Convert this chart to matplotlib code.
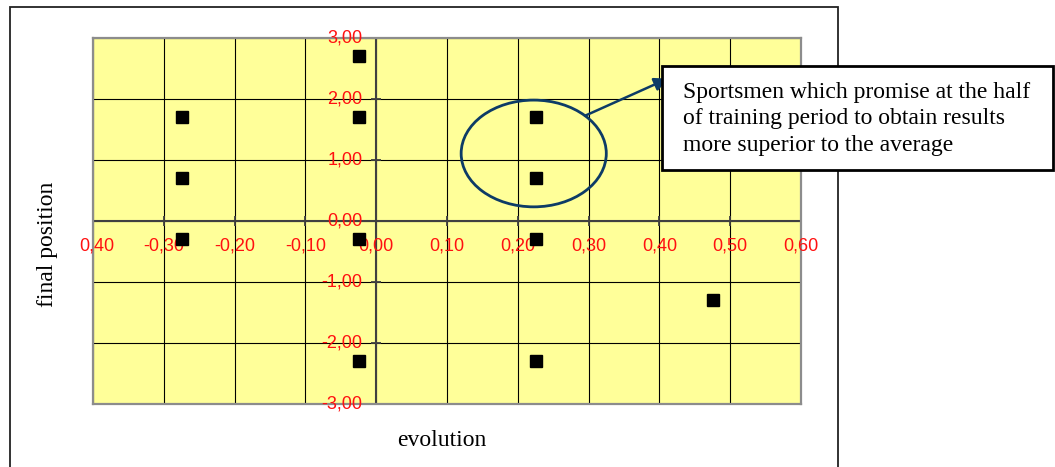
import numpy as np
import matplotlib
matplotlib.use("Agg")
import matplotlib.pyplot as plt
from matplotlib.patches import Ellipse, Rectangle

# sportsmen: evolution at half of training period vs final position
evolution = [-0.275, -0.275, -0.275, -0.025, -0.025, -0.025, -0.025,
             0.225, 0.225, 0.225, 0.225, 0.475]
final_position = [1.7, 0.7, -0.3, 2.7, 1.7, -0.3, -2.3,
                  1.7, 0.7, -0.3, -2.3, -1.3]

x_ticks = [-0.4, -0.3, -0.2, -0.1, 0.0, 0.1, 0.2, 0.3, 0.4, 0.5, 0.6]
x_labels = ["0,40", "-0,30", "-0,20", "-0,10", "0,00", "0,10",
            "0,20", "0,30", "0,40", "0,50", "0,60"]
y_ticks = [-3, -2, -1, 0, 1, 2, 3]
y_labels = ["-3,00", "-2,00", "-1,00", "0,00", "1,00", "2,00", "3,00"]

note = ("Sportsmen which promise at the half\n"
        "of training period to obtain results\n"
        "more superior to the average")

W, H = 1055, 467
fig = plt.figure(figsize=(W / 100, H / 100), dpi=100)
ax = fig.add_axes([93 / W, 1 - 404 / H, (801 - 93) / W, (404 - 38) / H])
ax.set_facecolor("#FFFF99")
ax.set_xlim(-0.4, 0.6)
ax.set_ylim(-3, 3)
ax.set_xticks(x_ticks)
ax.set_yticks(y_ticks)
ax.tick_params(length=0, labelbottom=False, labelleft=False)
ax.grid(True, color="black", lw=0.8)
ax.set_axisbelow(True)
for s in ax.spines.values():
    s.set_color("#8c8c8c")
    s.set_linewidth(1.6)

# axes crossing at the origin
ax.axhline(0, color="#404040", lw=1.5, zorder=1.5)
ax.axvline(0, color="#404040", lw=1.5, zorder=1.5)
ax.plot(x_ticks, np.zeros(len(x_ticks)), ls="none", marker="|",
        ms=7, mew=1.3, color="#404040", zorder=1.6)
ax.plot(np.zeros(len(y_ticks)), y_ticks, ls="none", marker="_",
        ms=7, mew=1.3, color="#404040", zorder=1.6)

red = "#FF1010"
for i, (x, lab) in enumerate(zip(x_ticks, x_labels)):
    dx = 3 if i == 0 else 0
    ax.annotate(lab, (x, 0), xytext=(dx, -18), textcoords="offset points",
                ha="center", va="center", color=red, fontsize=13,
                family="Liberation Sans", annotation_clip=False)
for y, lab in zip(y_ticks, y_labels):
    ax.annotate(lab, (0, y), xytext=(-10, 0), textcoords="offset points",
                ha="right", va="center", color=red, fontsize=13,
                family="Liberation Sans", annotation_clip=False)

ax.plot(evolution, final_position, ls="none", marker="s", ms=8,
        color="black", zorder=3)

# highlighted group and pointer to the note
navy = "#0D3B66"
cx, cy, ew, eh = 0.2225, 1.107, 0.205, 1.75
ax.add_patch(Ellipse((cx, cy), ew, eh, fill=False, ec=navy, lw=2, zorder=4))
t = np.deg2rad(45)
start = (cx + ew / 2 * np.cos(t), cy + eh / 2 * np.sin(t))
ax.annotate("", xy=(0.412, 2.335), xytext=start,
            arrowprops=dict(arrowstyle="-|>", color=navy, lw=1.8,
                            mutation_scale=20, shrinkA=0, shrinkB=0),
            zorder=5)

fig.text(48 / W, 1 - 244 / H, "final position", rotation=90,
         ha="center", va="center", fontsize=17, family="Liberation Serif")
fig.text(442 / W, 1 - 440 / H, "evolution", ha="center", va="center",
         fontsize=17, family="Liberation Serif")

# chart frame
fig.patches.append(Rectangle((10 / W, -0.1), (838 - 10) / W, 1.1 - 7 / H,
                             transform=fig.transFigure, fill=False,
                             ec="#222222", lw=1.3, zorder=1))
# note box
fig.patches.append(Rectangle((662 / W, 1 - 170 / H), (1053 - 662) / W,
                             (170 - 66) / H, transform=fig.transFigure,
                             fc="white", ec="black", lw=2, zorder=6))
fig.text(683 / W, 1 - 119 / H, note, ha="left", va="center",
         fontsize=17, linespacing=1.35, family="Liberation Serif", zorder=7)

fig.savefig("out.png", dpi=100)
